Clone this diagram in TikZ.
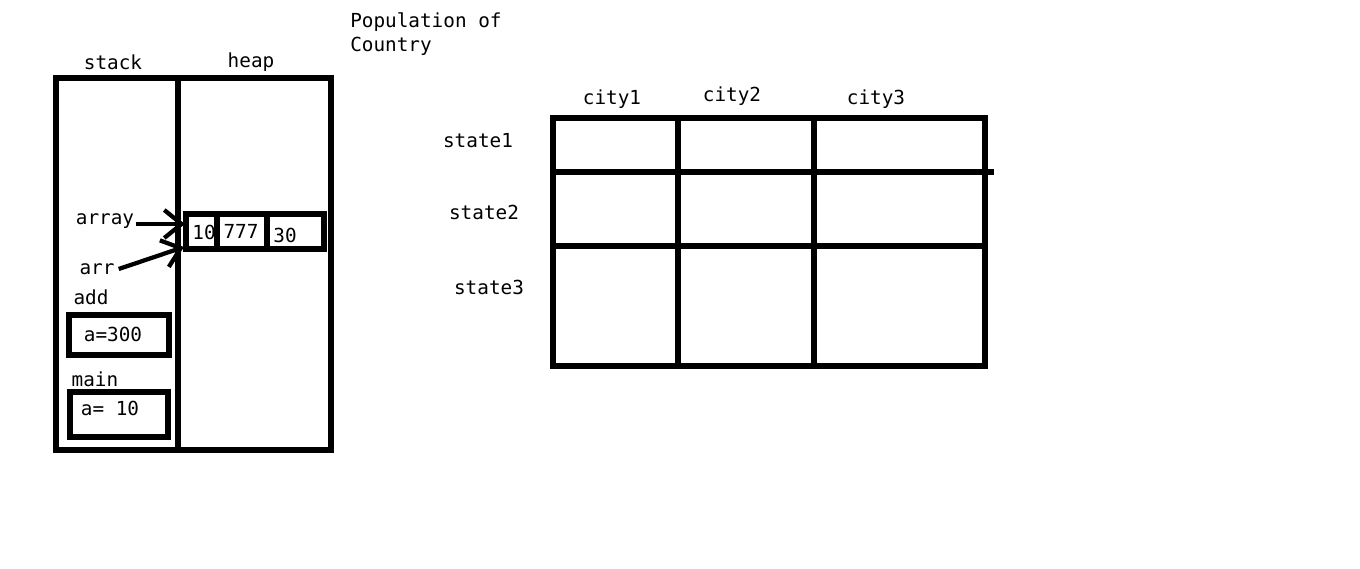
\documentclass[tikz,border=0pt]{standalone}
\usepackage{fontspec}
\setmonofont{DejaVu Sans Mono}
\usetikzlibrary{arrows.meta}
\tikzset{
  lbl/.style={font=\ttfamily\fontsize{14.5}{18}\selectfont, inner sep=0pt},
  frame/.style={line width=4pt},
  ptr/.style={line width=3.2pt, -{Straight Barb[length=13pt,width=21pt,line width=3.2pt]}},
}
\begin{document}
\begin{tikzpicture}[x=0.75pt,y=-0.75pt]
    \useasboundingbox (0,0) rectangle (1360,568);
    % stack and heap
    \node[lbl] (stack) at (113,62) {stack};
    \node[lbl] (heap) at (251,62) {heap};
    \draw[frame] (56,78) rectangle (331,450);
    \draw[frame] (178,78)--(178,453);
    \draw[frame] (186,214) rectangle (324,249);
    \draw[frame] (217,214)--(217,249);
    \draw[frame] (267,214)--(267,249);
    \node[lbl] (v10) at (204,232) {10};
    \node[lbl] (v777) at (241,231) {777};
    \node[lbl] (v30) at (285,235) {30};
    \node[lbl] (array) at (105,221) {array};
    \node[lbl] (arr) at (97,269) {arr};
    \coordinate (arrayhead) at (185,224);
    \coordinate (arrhead) at (184,247);
    \draw[ptr] ([xshift=1]array.east |- arrayhead)--(arrayhead);
    \draw[ptr] ([xshift=3]arr.east)--(arrhead);
    \node[lbl] (add) at (91,297) {add};
    \draw[frame] (69,315) rectangle (169,355);
    \node[lbl] (a300) at (113,334) {a=300};
    \node[lbl] (main) at (95,379) {main};
    \draw[frame] (70,392) rectangle (168,437);
    \node[lbl] (a10) at (110,408) {a=~10};
    % population table
    \node[lbl, align=left, anchor=west] (title) at (350,34) {Population of\\Country};
    \node[lbl] (city1) at (612,99) {city1};
    \node[lbl] (city2) at (732,96) {city2};
    \node[lbl] (city3) at (876,99) {city3};
    \node[lbl] (state1) at (478,141) {state1};
    \node[lbl] (state2) at (484,212) {state2};
    \node[lbl] (state3) at (489,287) {state3};
    \draw[frame] (553,118) rectangle (985,366);
    \draw[frame] (678,118)--(678,366);
    \draw[frame] (814,118)--(814,366);
    \draw[frame] (553,172)--(994,172);
    \draw[frame] (553,246)--(985,246);
\end{tikzpicture}
\end{document}
